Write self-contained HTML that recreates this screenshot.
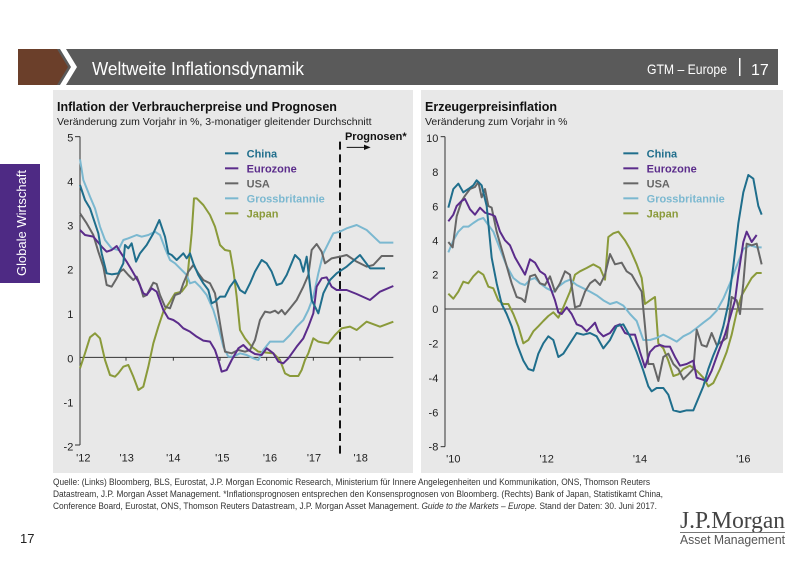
<!DOCTYPE html>
<html><head><meta charset="utf-8"><style>
body{margin:0;background:#fff;}
svg{display:block;font-family:"Liberation Sans",sans-serif;}
</style></head><body>
<svg width="800" height="565" viewBox="0 0 800 565" xmlns="http://www.w3.org/2000/svg">
<rect width="800" height="565" fill="#fff"/>
<!-- header -->
<rect x="18" y="49" width="760" height="36" fill="#5a5a5a"/>
<polygon points="18,49 57,49 68,67 57,85 18,85" fill="#6b3f2a"/>
<polygon points="60,49 66,49 77,67 66,85 60,85 71,67" fill="#fff"/>
<text x="92" y="75" fill="#fff" font-size="18" textLength="212" lengthAdjust="spacingAndGlyphs">Weltweite Inflationsdynamik</text>
<text x="647" y="74" fill="#fff" font-size="14" textLength="80" lengthAdjust="spacingAndGlyphs">GTM – Europe</text>
<rect x="739" y="58" width="1.5" height="18" fill="#fff"/>
<text x="751" y="75" fill="#fff" font-size="16">17</text>
<!-- sidebar -->
<rect x="0" y="164" width="40" height="119" fill="#4e2a84"/>
<text transform="translate(26,276) rotate(-90)" fill="#fff" font-size="13" textLength="106" lengthAdjust="spacingAndGlyphs">Globale Wirtschaft</text>
<!-- panels -->
<rect x="53" y="90" width="360" height="383" fill="#e8e8e8"/>
<rect x="421" y="90" width="362" height="383" fill="#e8e8e8"/>
<text x="57" y="111" font-size="12.5" font-weight="bold" fill="#111">Inflation der Verbraucherpreise und Prognosen</text>
<text x="57" y="125" font-size="10.5" fill="#222">Veränderung zum Vorjahr in %, 3-monatiger gleitender Durchschnitt</text>
<text x="425" y="111" font-size="12.5" font-weight="bold" fill="#111">Erzeugerpreisinflation</text>
<text x="425" y="125" font-size="10.5" fill="#222">Veränderung zum Vorjahr in %</text>

<!-- LEFT CHART -->
<g transform="translate(40,120) scale(0.33333)">
<g stroke="#333" stroke-width="3" fill="none">
<line x1="120" y1="50" x2="120" y2="975"/>
<line x1="105" y1="50" x2="120" y2="50"/><line x1="105" y1="975" x2="120" y2="975"/>
<line x1="120" y1="712" x2="1060" y2="712"/>
<line x1="258" y1="712" x2="258" y2="722"/><line x1="400" y1="712" x2="400" y2="722"/><line x1="540" y1="712" x2="540" y2="722"/><line x1="680" y1="712" x2="680" y2="722"/><line x1="820" y1="712" x2="820" y2="722"/><line x1="960" y1="712" x2="960" y2="722"/>
</g>
<g font-size="33" fill="#222" text-anchor="end">
<text x="100" y="64">5</text><text x="100" y="196">4</text><text x="100" y="329">3</text><text x="100" y="461">2</text><text x="100" y="594">1</text><text x="100" y="727">0</text><text x="100" y="859">-1</text><text x="100" y="991">-2</text>
</g>
<g font-size="33" fill="#222" text-anchor="middle">
<text x="130" y="1025">'12</text><text x="260" y="1025">'13</text><text x="400" y="1025">'14</text><text x="547" y="1025">'15</text><text x="690" y="1025">'16</text><text x="822" y="1025">'17</text><text x="962" y="1025">'18</text>
</g>
<line x1="900" y1="65" x2="900" y2="1015" stroke="#111" stroke-width="6" stroke-dasharray="24,14"/>
<text x="915" y="60" font-size="33" font-weight="bold" fill="#111">Prognosen*</text>
<line x1="920" y1="82" x2="975" y2="82" stroke="#111" stroke-width="3"/>
<polygon points="972,74 992,82 972,90" fill="#111"/>
<g fill="none" stroke-width="6" stroke-linejoin="round">
<polyline stroke="#8a9a3a" points="120,745 135,700 150,652 165,640 180,655 195,720 210,765 225,770 235,760 250,740 265,735 280,770 295,810 310,800 325,740 340,670 355,620 370,575 390,545 405,520 425,515 440,495 455,340 462,235 470,235 490,255 510,285 525,320 540,375 555,390 570,393 580,450 590,530 600,630 615,655 635,680 655,695 680,698 700,700 720,720 735,760 750,768 775,768 785,750 795,720 805,700 820,655 835,665 850,668 865,670 885,645 905,625 930,620 950,630 980,605 1020,620 1060,605"/>
<polyline stroke="#7bb8d0" points="120,118 130,180 150,230 165,265 180,320 195,360 215,385 235,390 250,360 265,355 290,345 305,350 325,345 345,335 360,345 375,385 390,420 405,430 420,445 440,465 450,490 465,485 480,500 500,525 520,570 535,620 550,680 565,710 580,710 600,700 620,705 640,715 655,720 670,690 690,665 710,665 730,665 750,645 770,620 790,600 805,570 820,530 835,460 850,400 865,370 880,340 900,335 920,325 950,315 980,330 1020,368 1060,368"/>
<polyline stroke="#666" points="120,280 140,310 160,345 175,395 190,440 200,495 215,500 230,475 240,455 250,448 265,465 280,480 290,470 300,495 310,530 320,525 340,488 350,492 360,525 375,560 390,565 405,525 420,520 430,490 445,455 460,435 475,460 490,480 510,490 525,520 535,580 545,640 555,695 575,700 595,690 615,695 630,690 645,660 660,600 675,575 690,578 705,572 715,580 725,570 735,583 750,565 770,540 790,500 805,465 815,390 830,372 845,395 855,430 875,415 900,410 920,405 950,425 980,440 1000,435 1025,408 1060,408"/>
<polyline stroke="#5b2c8b" points="120,330 135,345 160,350 185,380 200,395 215,390 230,378 240,395 260,425 275,450 295,485 310,520 320,525 335,505 350,515 370,570 385,595 400,600 415,610 430,625 450,635 470,650 490,662 510,665 525,690 535,720 545,755 560,750 575,720 595,685 610,675 625,690 645,702 665,705 680,685 700,700 715,725 730,730 745,715 770,680 790,655 805,620 820,580 830,500 845,475 860,472 875,500 890,510 920,510 950,522 990,540 1020,515 1060,498"/>
<polyline stroke="#1f6e8c" points="120,195 135,240 150,265 160,295 175,340 185,400 200,460 215,463 235,460 250,430 255,375 265,385 275,370 288,425 300,400 320,375 340,340 358,300 375,350 385,400 395,405 410,420 420,410 430,400 440,415 450,400 460,430 475,465 490,490 505,510 515,550 525,545 540,530 555,530 570,500 585,480 600,510 615,520 630,490 645,455 665,420 680,430 695,455 710,495 725,490 740,465 765,405 780,420 790,455 800,410 815,540 835,580 850,520 870,480 890,460 920,440 960,405 990,445 1035,445"/>
</g>
<g stroke-width="6"><line x1="555" y1="100" x2="595" y2="100" stroke="#1f6e8c"/><line x1="555" y1="145" x2="595" y2="145" stroke="#5b2c8b"/><line x1="555" y1="190" x2="595" y2="190" stroke="#666"/><line x1="555" y1="235" x2="595" y2="235" stroke="#7bb8d0"/><line x1="555" y1="280" x2="595" y2="280" stroke="#8a9a3a"/></g>
<g font-size="33" font-weight="bold"><text x="620" y="112" fill="#1f6e8c">China</text><text x="620" y="157" fill="#5b2c8b">Eurozone</text><text x="620" y="202" fill="#666">USA</text><text x="620" y="247" fill="#7bb8d0">Grossbritannie</text><text x="620" y="292" fill="#8a9a3a">Japan</text></g>
</g>

<!-- RIGHT CHART -->
<g transform="translate(410,120) scale(0.33333)">
<g stroke="#333" stroke-width="3" fill="none">
<line x1="105" y1="50" x2="105" y2="980"/>
<line x1="92" y1="50" x2="105" y2="50"/><line x1="92" y1="980" x2="105" y2="980"/>
<line x1="105" y1="567" x2="1060" y2="567"/>
</g>
<g font-size="33" fill="#222" text-anchor="end">
<text x="85" y="66">10</text><text x="85" y="168">8</text><text x="85" y="271">6</text><text x="85" y="374">4</text><text x="85" y="476">2</text><text x="85" y="579">0</text><text x="85" y="683">-2</text><text x="85" y="786">-4</text><text x="85" y="889">-6</text><text x="85" y="991">-8</text>
</g>
<g font-size="33" fill="#222" text-anchor="middle">
<text x="130" y="1027">'10</text><text x="410" y="1027">'12</text><text x="690" y="1027">'14</text><text x="1000" y="1027">'16</text>
</g>
<g fill="none" stroke-width="6" stroke-linejoin="round">
<polyline stroke="#8a9a3a" points="115,521 130,536 145,515 160,485 175,490 190,469 205,454 220,464 235,500 250,505 265,541 280,552 295,552 310,582 325,619 340,670 355,660 370,634 385,619 400,603 415,588 430,577 445,593 460,562 480,515 495,464 510,454 530,444 550,433 570,444 585,479 595,351 610,340 625,335 645,361 660,387 680,433 695,474 705,552 720,541 735,531 745,670 760,685 775,722 790,768 805,763 820,747 840,737 860,752 880,773 895,799 910,789 930,747 950,696 965,644 980,577 995,526 1010,500 1025,474 1040,459 1055,459"/>
<polyline stroke="#7bb8d0" points="115,397 130,361 145,335 160,320 175,320 190,309 205,299 220,294 235,315 250,335 270,387 290,438 310,474 330,490 345,495 360,479 375,474 390,490 410,505 430,515 445,500 465,485 480,479 500,495 520,505 540,515 560,526 580,541 600,552 620,546 640,557 660,582 680,603 700,660 720,660 740,654 760,644 780,654 800,665 820,649 840,639 860,624 880,608 900,593 920,572 940,536 960,490 980,438 1000,387 1020,376 1040,382 1055,382"/>
<polyline stroke="#666" points="115,366 128,382 140,289 155,243 165,227 180,207 195,201 205,186 215,232 225,207 235,258 245,263 260,335 275,387 290,438 305,490 320,531 335,536 345,546 360,469 375,464 390,490 405,495 420,469 435,515 450,490 465,454 480,464 495,562 510,557 525,515 540,490 555,479 570,495 585,464 600,402 615,433 635,428 650,454 665,464 680,490 695,515 705,619 715,732 730,732 745,783 760,711 775,701 790,732 805,747 820,778 835,763 850,747 860,629 875,675 890,680 905,639 920,675 935,665 950,654 965,531 980,541 990,582 1000,490 1010,371 1025,376 1040,371 1055,433"/>
<polyline stroke="#5b2c8b" points="115,304 130,284 140,258 155,243 165,237 180,268 195,284 210,263 225,278 245,284 255,289 270,335 285,361 300,376 315,412 330,438 345,464 360,418 375,428 390,454 405,464 420,500 435,541 445,577 455,582 470,562 485,582 500,613 515,619 530,634 545,619 555,608 565,634 580,649 600,639 615,619 630,613 645,639 660,644 675,644 690,696 705,742 720,696 735,680 750,675 765,680 780,680 795,711 810,737 830,732 850,722 860,773 875,778 890,783 905,752 925,696 945,644 960,593 975,541 985,464 1000,366 1010,335 1025,366 1040,345"/>
<polyline stroke="#1f6e8c" points="115,263 130,207 145,191 160,217 175,207 190,196 200,181 215,196 230,258 245,413 260,490 275,552 290,582 305,619 320,670 340,722 355,747 370,752 385,701 400,670 415,649 430,660 445,711 460,701 480,670 500,639 520,644 540,639 560,649 580,685 600,660 620,619 640,613 660,649 680,696 700,752 715,799 725,814 740,804 760,804 775,824 790,871 810,876 830,871 850,871 865,835 880,799 895,747 910,706 925,670 940,619 955,552 970,438 985,310 1000,217 1015,165 1030,176 1045,258 1055,284"/>
</g>
<g stroke-width="6"><line x1="640" y1="100" x2="685" y2="100" stroke="#1f6e8c"/><line x1="640" y1="145" x2="685" y2="145" stroke="#5b2c8b"/><line x1="640" y1="190" x2="685" y2="190" stroke="#666"/><line x1="640" y1="235" x2="685" y2="235" stroke="#7bb8d0"/><line x1="640" y1="280" x2="685" y2="280" stroke="#8a9a3a"/></g>
<g font-size="33" font-weight="bold"><text x="710" y="112" fill="#1f6e8c">China</text><text x="710" y="157" fill="#5b2c8b">Eurozone</text><text x="710" y="202" fill="#666">USA</text><text x="710" y="247" fill="#7bb8d0">Grossbritannie</text><text x="710" y="292" fill="#8a9a3a">Japan</text></g>
</g>

<!-- footer -->
<g font-size="9" fill="#333">
<text x="53" y="485" textLength="597" lengthAdjust="spacingAndGlyphs">Quelle: (Links) Bloomberg, BLS, Eurostat, J.P. Morgan Economic Research, Ministerium für Innere Angelegenheiten und Kommunikation, ONS, Thomson Reuters</text>
<text x="53" y="497" textLength="610" lengthAdjust="spacingAndGlyphs">Datastream, J.P. Morgan Asset Management. *Inflationsprognosen entsprechen den Konsensprognosen von Bloomberg. (Rechts) Bank of Japan, Statistikamt China,</text>
<text x="53" y="509" textLength="604" lengthAdjust="spacingAndGlyphs">Conference Board, Eurostat, ONS, Thomson Reuters Datastream, J.P. Morgan Asset Management. <tspan font-style="italic">Guide to the Markets – Europe.</tspan> Stand der Daten: 30. Juni 2017.</text>
</g>
<text x="20" y="543" font-size="13" fill="#222">17</text>
<text x="785" y="528" text-anchor="end" font-family="Liberation Serif,serif" font-size="24" fill="#444" textLength="105" lengthAdjust="spacingAndGlyphs">J.P.Morgan</text>
<rect x="680" y="532" width="105" height="1" fill="#777"/>
<text x="785" y="544" text-anchor="end" font-size="12.5" fill="#555" textLength="105" lengthAdjust="spacingAndGlyphs">Asset Management</text>
</svg>
</body></html>
